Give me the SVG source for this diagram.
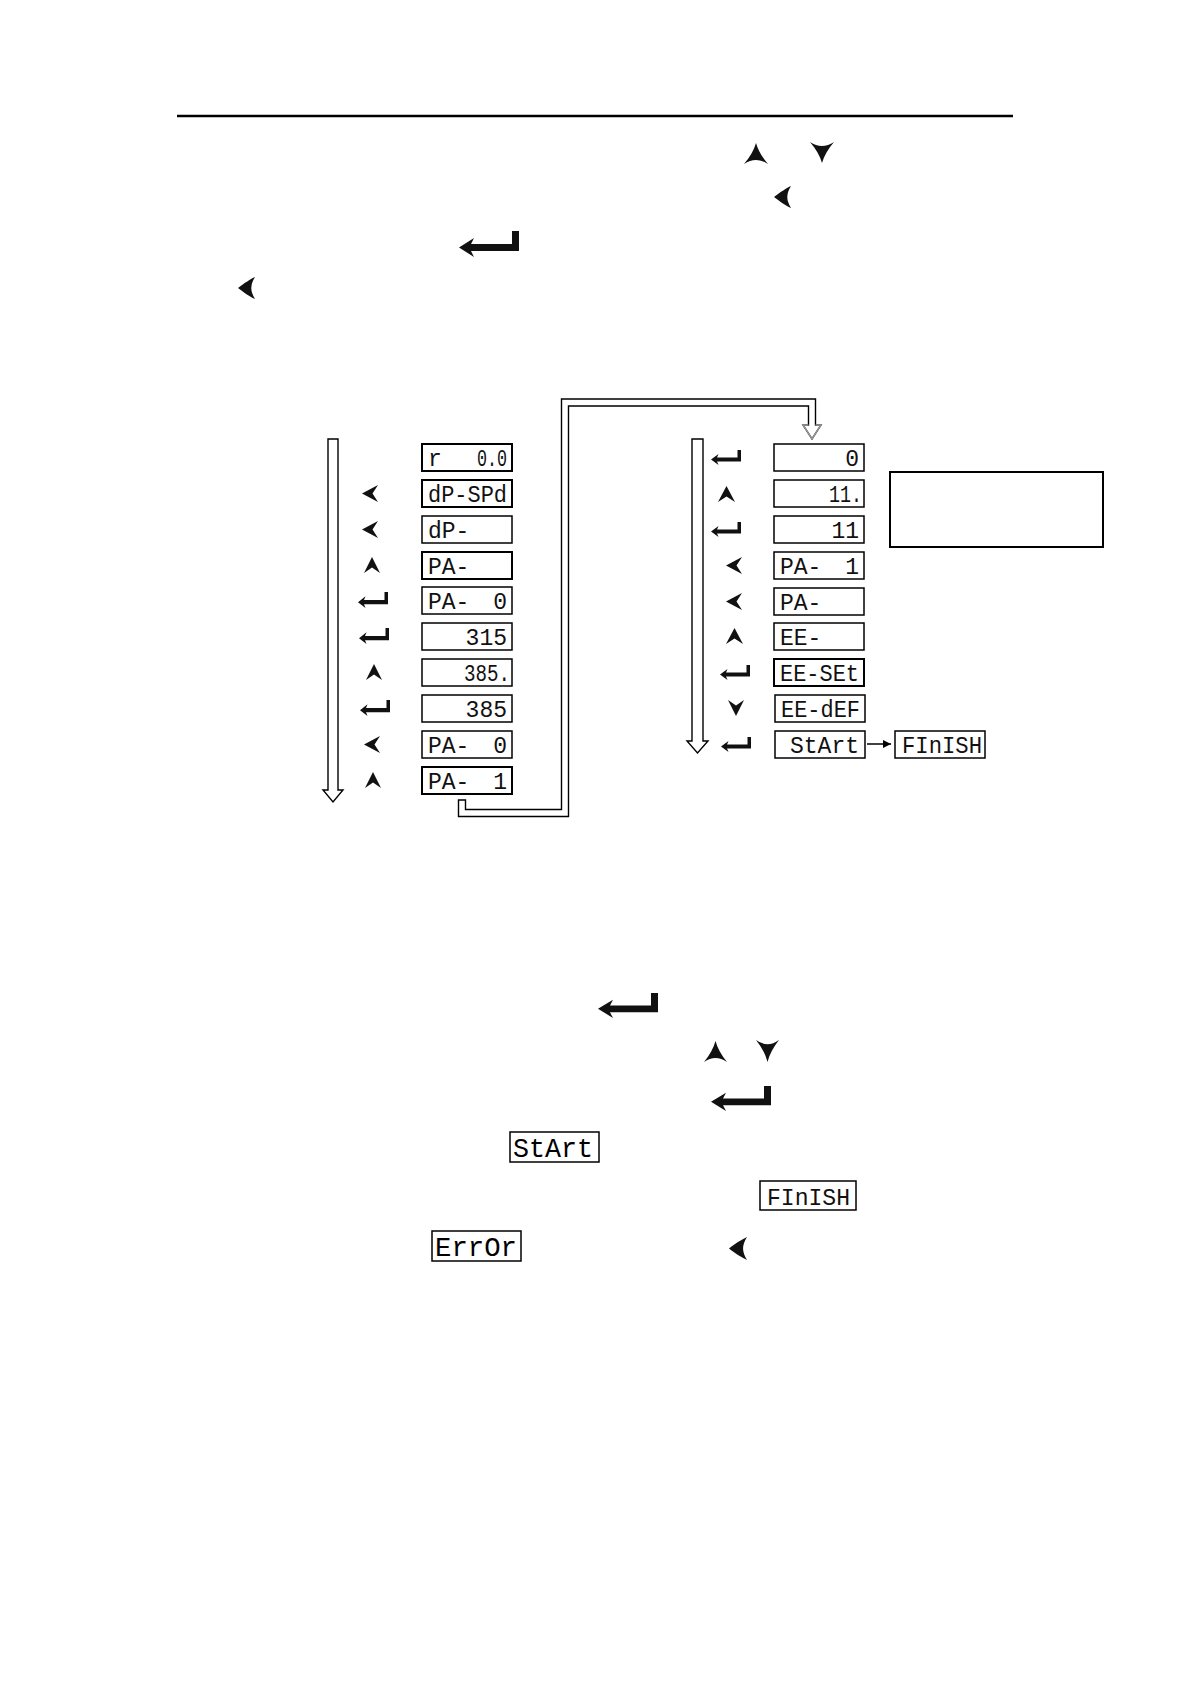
<svg xmlns="http://www.w3.org/2000/svg" xmlns:xlink="http://www.w3.org/1999/xlink" width="1190" height="1684" viewBox="0 0 1190 1684">
<style>
.box{fill:#fff;stroke:#000;stroke-width:1.5}
.boxb{fill:#fff;stroke:#000;stroke-width:2}
.lcd{font-family:"Liberation Mono","DejaVu Sans Mono",monospace;font-size:23px;fill:#111}
.lcdb{font-family:"Liberation Mono","DejaVu Sans Mono",monospace;font-size:27px;fill:#000}
.end{text-anchor:end}
.pipe{fill:#fff;stroke:#000;stroke-width:1.4}
.ico{fill:#111}
</style>
<defs>
<symbol id="sym-up" viewBox="0 0 24 21" preserveAspectRatio="none"><path d="M12,0 C14,7 18,14 24,21 Q18,17 12,17 Q6,17 0,21 C6,14 10,7 12,0 Z"/></symbol>
<symbol id="sym-down" viewBox="0 0 24 21" preserveAspectRatio="none"><path d="M12,21 C14,14 18,7 24,0 Q18,4 12,4 Q6,4 0,0 C6,7 10,14 12,21 Z"/></symbol>
<symbol id="sym-left" viewBox="0 0 16 22" preserveAspectRatio="none"><path d="M0,11 C6,6 12,2 16,0 Q12.5,6 12.5,11 Q12.5,16 16,22 C12,20 6,16 0,11 Z"/></symbol>
<symbol id="chev-left" viewBox="0 0 16 17" preserveAspectRatio="none"><path d="M0,8.5 L16,0 L10.5,8.5 L16,17 Z"/></symbol>
<symbol id="chev-up" viewBox="0 0 16 16" preserveAspectRatio="none"><path d="M8,0 L16,16 L8,10.5 L0,16 Z"/></symbol>
<symbol id="chev-down" viewBox="0 0 16 16" preserveAspectRatio="none"><path d="M8,16 L16,0 L8,5.5 L0,0 Z"/></symbol>
<symbol id="sym-enter" viewBox="0 0 60 26" preserveAspectRatio="none"><path d="M53,0 H60 V20 H12 L15,26 L0,16.5 L15,7 L12,13 H53 Z"/></symbol>
<marker id="arr" viewBox="0 0 10 10" refX="10" refY="5" markerWidth="8" markerHeight="8" markerUnits="userSpaceOnUse" orient="auto"><path d="M0,0 L10,5 L0,10 Z" fill="#000"/></marker>
</defs>
<rect width="1190" height="1684" fill="#fff"/>
<line x1="177" y1="116" x2="1013" y2="116" stroke="#000" stroke-width="2.6"/>

<g id="top-icons" class="ico">
<use href="#sym-up" x="744" y="143" width="24" height="21"/>
<use href="#sym-down" x="810" y="142" width="24" height="21"/>
<use href="#sym-left" x="774" y="186" width="17" height="22"/>
<use href="#sym-enter" x="459" y="231" width="60" height="26"/>
<use href="#sym-left" x="238" y="277" width="17" height="22"/>
</g>

<g id="connectors">
<path class="pipe" d="M328,439 H338 V790 H343 L333,802 L323,790 H328 Z"/>
<path class="pipe" d="M692,439 H703 V741 H708 L697.5,753 L687,741 H692 Z"/>
<path class="pipe" d="M458.5,800 V816.5 H568.5 V406 H808.5 V425 H803 L812,439 L821,425 H815.5 V399 H561.5 V809.5 H465.5 V800 Z"/>
<polyline points="808.5,425 803,425 812,439 821,425 815.5,425" fill="none" stroke="#999" stroke-width="1.4"/>
<line x1="867" y1="744" x2="891" y2="744" stroke="#000" stroke-width="1.5" marker-end="url(#arr)"/>
</g>

<g id="left-column">
<g id="L1"><rect class="boxb" x="422" y="444" width="90" height="27"/><text class="lcd" x="428" y="466">r</text><text class="lcd end" x="507" y="466" textLength="30" lengthAdjust="spacingAndGlyphs">0.0</text></g>
<g id="L2"><rect class="boxb" x="422" y="480" width="90" height="27"/><text class="lcd" x="428" y="502" textLength="79" lengthAdjust="spacingAndGlyphs">dP-SPd</text></g>
<g id="L3"><rect class="box" x="422" y="516" width="90" height="27"/><text class="lcd" x="428" y="538">dP-</text></g>
<g id="L4"><rect class="boxb" x="422" y="552" width="90" height="27"/><text class="lcd" x="428" y="574">PA-</text></g>
<g id="L5"><rect class="box" x="422" y="587" width="90" height="27"/><text class="lcd" x="428" y="609">PA-</text><text class="lcd end" x="507" y="609">0</text></g>
<g id="L6"><rect class="box" x="422" y="623" width="90" height="27"/><text class="lcd end" x="507" y="645">315</text></g>
<g id="L7"><rect class="box" x="422" y="659" width="90" height="27"/><text class="lcd end" x="510" y="681" textLength="46" lengthAdjust="spacingAndGlyphs">385.</text></g>
<g id="L8"><rect class="box" x="422" y="695" width="90" height="27"/><text class="lcd end" x="507" y="717">385</text></g>
<g id="L9"><rect class="box" x="422" y="731" width="90" height="27"/><text class="lcd" x="428" y="753">PA-</text><text class="lcd end" x="507" y="753">0</text></g>
<g id="L10"><rect class="boxb" x="422" y="767" width="90" height="27"/><text class="lcd" x="428" y="789">PA-</text><text class="lcd end" x="507" y="789">1</text></g>
</g>

<g id="left-icons" class="ico">
<use href="#chev-left" x="362" y="485" width="16" height="17"/>
<use href="#chev-left" x="362" y="521" width="16" height="17"/>
<use href="#chev-up" x="364" y="557" width="16" height="16"/>
<use href="#sym-enter" x="358" y="592" width="30" height="16"/>
<use href="#sym-enter" x="359" y="628" width="30" height="16"/>
<use href="#chev-up" x="366" y="664" width="16" height="16"/>
<use href="#sym-enter" x="360" y="700" width="30" height="16"/>
<use href="#chev-left" x="364" y="736" width="16" height="17"/>
<use href="#chev-up" x="365" y="772" width="16" height="16"/>
</g>

<g id="right-column">
<g id="R1"><rect class="box" x="774" y="444" width="90" height="27"/><text class="lcd end" x="859" y="466">0</text></g>
<g id="R2"><rect class="box" x="774" y="480" width="90" height="27"/><text class="lcd end" x="862" y="502" textLength="33" lengthAdjust="spacingAndGlyphs">11.</text></g>
<g id="R3"><rect class="box" x="774" y="516" width="90" height="27"/><text class="lcd end" x="859" y="538">11</text></g>
<g id="R4"><rect class="box" x="774" y="552" width="90" height="27"/><text class="lcd" x="780" y="574">PA-</text><text class="lcd end" x="859" y="574">1</text></g>
<g id="R5"><rect class="box" x="774" y="588" width="90" height="27"/><text class="lcd" x="780" y="610">PA-</text></g>
<g id="R6"><rect class="box" x="774" y="623" width="90" height="27"/><text class="lcd" x="780" y="645">EE-</text></g>
<g id="R7"><rect class="boxb" x="774" y="659" width="90" height="27"/><text class="lcd" x="780" y="681" textLength="79" lengthAdjust="spacingAndGlyphs">EE-SEt</text></g>
<g id="R8"><rect class="box" x="775" y="695" width="90" height="27"/><text class="lcd" x="781" y="717" textLength="79" lengthAdjust="spacingAndGlyphs">EE-dEF</text></g>
<g id="R9"><rect class="box" x="775" y="731" width="90" height="27"/><text class="lcd end" x="859" y="753">StArt</text></g>
<g id="R10"><rect class="box" x="895" y="731" width="90" height="27"/><text class="lcd" x="902" y="753" textLength="80" lengthAdjust="spacingAndGlyphs">FInISH</text></g>
<g id="note"><rect class="boxb" x="890" y="472" width="213" height="75"/></g>
</g>

<g id="right-icons" class="ico">
<use href="#sym-enter" x="711" y="450" width="30" height="15"/>
<use href="#chev-up" x="718" y="486" width="17" height="16"/>
<use href="#sym-enter" x="711" y="522" width="30" height="15"/>
<use href="#chev-left" x="726" y="557" width="16" height="17"/>
<use href="#chev-left" x="726" y="593" width="16" height="17"/>
<use href="#chev-up" x="726" y="628" width="17" height="16"/>
<use href="#sym-enter" x="720" y="665" width="30" height="15"/>
<use href="#chev-down" x="728" y="700" width="16" height="16"/>
<use href="#sym-enter" x="721" y="737" width="30" height="15"/>
</g>

<g id="bottom">
<g class="ico">
<use href="#sym-enter" x="598" y="993" width="60" height="25"/>
<use href="#sym-up" x="704" y="1041" width="23" height="21"/>
<use href="#sym-down" x="756" y="1040" width="23" height="22"/>
<use href="#sym-enter" x="711" y="1086" width="60" height="25"/>
<use href="#sym-left" x="729" y="1237" width="18" height="23"/>
</g>
<g id="B-start"><rect class="box" x="510" y="1132" width="89" height="30"/><text class="lcdb" x="513" y="1157" textLength="80" lengthAdjust="spacingAndGlyphs">StArt</text></g>
<g id="B-finish"><rect class="box" x="760" y="1181" width="96" height="29"/><text class="lcd" x="767" y="1205" font-size="26" textLength="83" lengthAdjust="spacingAndGlyphs">FInISH</text></g>
<g id="B-error"><rect class="box" x="432" y="1231" width="89" height="30"/><text class="lcdb" x="435" y="1256" textLength="82" lengthAdjust="spacingAndGlyphs">ErrOr</text></g>
</g>
</svg>
